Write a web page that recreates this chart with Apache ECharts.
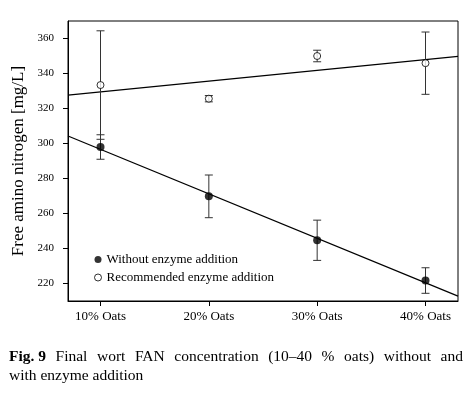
<!DOCTYPE html>
<html>
<head>
<meta charset="utf-8">
<script src="https://cdn.jsdelivr.net/npm/echarts@6/dist/echarts.min.js"></script>
<style>
  html, body { margin: 0; padding: 0; background: #fff; }
  #chart { width: 476px; height: 397px; }
</style>
</head>
<body>
<div id="chart"></div>
<script>
const oatsPct = [10, 20, 30, 40]
const xLabels = ['10% Oats', '20% Oats', '30% Oats', '40% Oats']
const yTicks = [220, 240, 260, 280, 300, 320, 340, 360]

// without enzyme addition (filled)
const withoutMean = [298, 269.8, 244.7, 221.7]
const withoutErr = [7, 12.2, 11.5, 7.3]
// recommended enzyme addition (open)
const withMean = [333.4, 325.6, 350, 345.9]
const withErr = [31, 1.8, 3.3, 17.8]

// fitted lines, end points
const fitWithout = [[7, 304.3], [43, 212.8]]
const fitWith = [[7, 327.6], [43, 349.8]]

const serif = '"Liberation Serif", "Times New Roman", serif'

const chart = echarts.init(document.getElementById('chart'))

const errData = (mean, err) => oatsPct.map((x, i) => [x, mean[i] - err[i], mean[i] + err[i]])

const errRender = (params, api) => {
  const x = api.value(0)
  const lo = api.coord([x, api.value(1)])
  const hi = api.coord([x, api.value(2)])
  const w = 4
  const style = { stroke: '#333', lineWidth: 1, fill: null }
  return {
    type: 'group',
    children: [
      { type: 'line', shape: { x1: lo[0], y1: lo[1], x2: hi[0], y2: hi[1] }, style },
      { type: 'line', shape: { x1: lo[0] - w, y1: lo[1], x2: lo[0] + w, y2: lo[1] }, style },
      { type: 'line', shape: { x1: hi[0] - w, y1: hi[1], x2: hi[0] + w, y2: hi[1] }, style }
    ]
  }
}

// caption, first line justified
const measureCtx = document.createElement('canvas').getContext('2d')
const capSize = 15.5
const capFont = capSize + 'px ' + serif
const capBold = 'bold ' + capSize + 'px ' + serif
const line1 = [{ t: 'Fig. 9', b: true }, 'Final', 'wort', 'FAN', 'concentration', '(10–40', '%', 'oats)', 'without', 'and']
const capLeft = 9, capRight = 463
const words = line1.map(w => typeof w === 'string' ? { t: w, b: false } : w)
words.forEach(w => { measureCtx.font = w.b ? capBold : capFont; w.w = measureCtx.measureText(w.t).width })
const totalW = words.reduce((s, w) => s + w.w, 0)
const gap = (capRight - capLeft - totalW) / (words.length - 1)
let cx = capLeft
const captionEls = words.map(w => {
  const el = {
    type: 'text', x: cx, y: 357,
    style: { text: w.t, font: w.b ? capBold : capFont, fill: '#000', verticalAlign: 'middle' }
  }
  cx += w.w + gap
  return el
})
captionEls.push({
  type: 'text', x: capLeft, y: 376,
  style: { text: 'with enzyme addition', font: capFont, fill: '#000', verticalAlign: 'middle' }
})

const option = {
  animation: false,
  textStyle: { fontFamily: serif, color: '#000' },
  grid: {
    left: 68,
    right: 18,
    top: 21,
    bottom: 96,
    show: true,
    borderColor: '#000',
    borderWidth: 1
  },
  legend: {
    orient: 'vertical',
    left: 94,
    top: 253,
    padding: 0,
    itemWidth: 7,
    itemHeight: 7,
    itemGap: 5,
    textStyle: { fontFamily: serif, fontSize: 13, color: '#000' },
    data: [
      { name: 'Without enzyme addition', icon: 'circle' },
      { name: 'Recommended enzyme addition', icon: 'circle', itemStyle: { borderWidth: 1 } }
    ]
  },
  xAxis: {
    type: 'value',
    min: 7,
    max: 43,
    splitLine: { show: false },
    axisLine: { lineStyle: { color: '#000' } },
    axisTick: { length: 5, lineStyle: { color: '#000' }, customValues: oatsPct },
    axisLabel: {
      customValues: oatsPct,
      margin: 9,
      fontSize: 13,
      fontFamily: serif,
      color: '#000',
      formatter: v => xLabels[oatsPct.indexOf(v)]
    }
  },
  yAxis: {
    type: 'value',
    min: 210,
    max: 370,
    name: 'Free amino nitrogen [mg/L]',
    nameLocation: 'middle',
    nameGap: 36,
    nameTextStyle: { fontFamily: serif, fontSize: 17, color: '#000' },
    splitLine: { show: false },
    axisLine: { show: true, lineStyle: { color: '#000' } },
    axisTick: { show: true, length: 5, lineStyle: { color: '#000' }, customValues: yTicks },
    axisLabel: { customValues: yTicks, margin: 14, fontSize: 11, fontFamily: serif, color: '#000' }
  },
  graphic: captionEls,
  series: [
    {
      name: 'fit without',
      type: 'line',
      data: fitWithout,
      symbol: 'none',
      lineStyle: { color: '#000', width: 1.2 },
      z: 1
    },
    {
      name: 'fit with',
      type: 'line',
      data: fitWith,
      symbol: 'none',
      lineStyle: { color: '#000', width: 1.2 },
      z: 1
    },
    {
      name: 'err without',
      type: 'custom',
      renderItem: errRender,
      data: errData(withoutMean, withoutErr),
      encode: { x: 0, y: [1, 2] },
      z: 2
    },
    {
      name: 'err with',
      type: 'custom',
      renderItem: errRender,
      data: errData(withMean, withErr),
      encode: { x: 0, y: [1, 2] },
      z: 2
    },
    {
      name: 'Without enzyme addition',
      type: 'scatter',
      data: oatsPct.map((x, i) => [x, withoutMean[i]]),
      symbol: 'circle',
      symbolSize: 8,
      itemStyle: { color: '#000' },
      z: 3
    },
    {
      name: 'Recommended enzyme addition',
      type: 'scatter',
      data: oatsPct.map((x, i) => [x, withMean[i]]),
      symbol: 'circle',
      symbolSize: 7,
      itemStyle: { color: '#fff', borderColor: '#000', borderWidth: 1 },
      z: 3
    }
  ]
}

chart.setOption(option)
</script>
</body>
</html>
